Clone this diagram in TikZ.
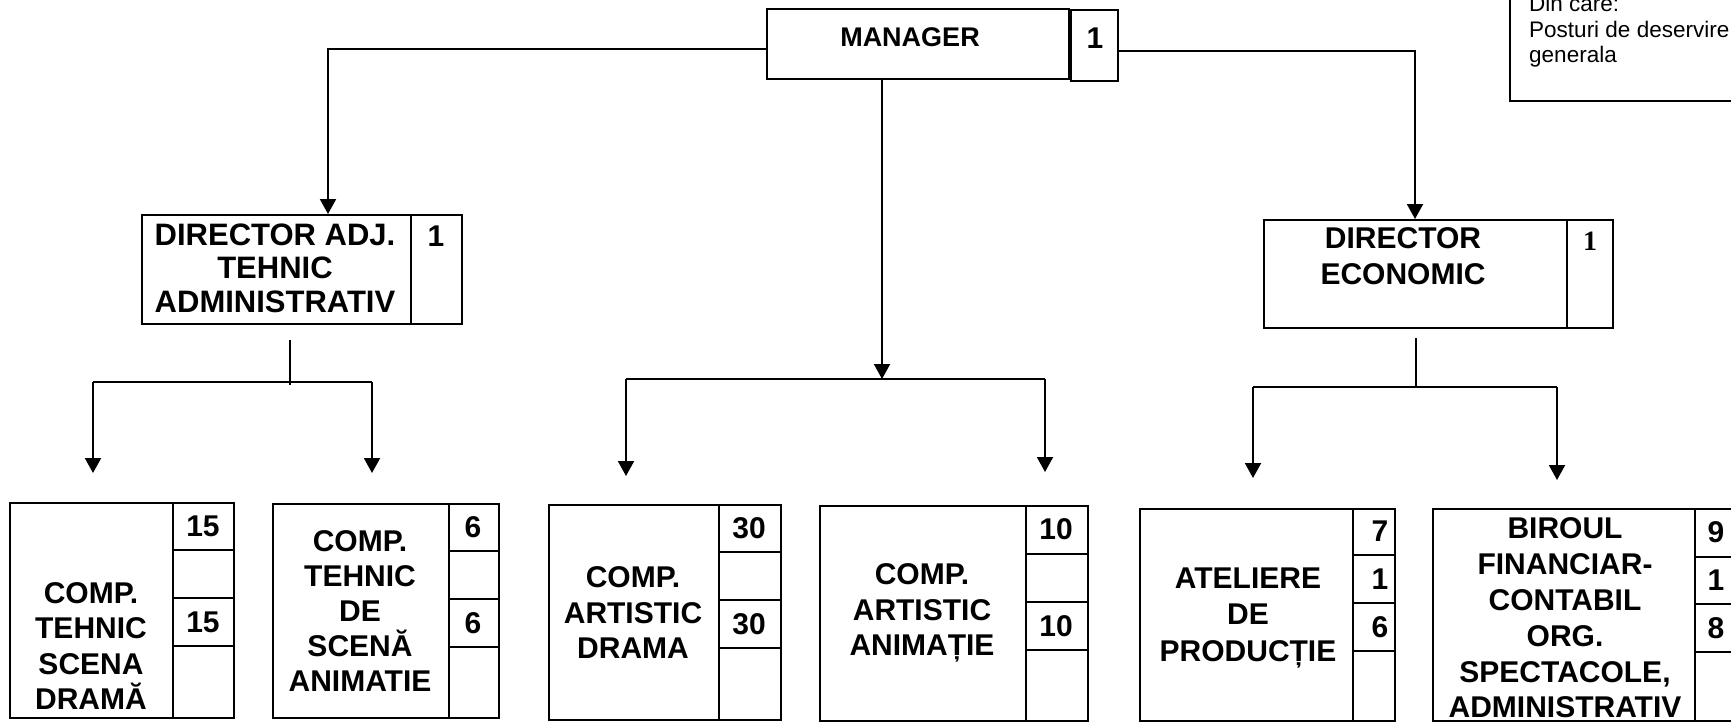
\documentclass[tikz,border=0pt]{standalone}
\usepackage{fontspec}
\setmainfont{Liberation Sans}
\newfontfamily\serifnum{Liberation Serif}
\usetikzlibrary{arrows.meta}
\begin{document}
\begin{tikzpicture}[x=1pt,y=-1pt,
  box/.style={draw,line width=2pt,rectangle,inner sep=0pt,anchor=north west},
  lbl/.style={align=center,inner sep=0pt,font=\bfseries\fontsize{30}{35.5}\selectfont},
  num/.style={inner sep=0pt,font=\bfseries\fontsize{30}{32}\selectfont},
  note/.style={inner sep=0pt,anchor=base west,font=\fontsize{22.5}{25}\selectfont},
  conn/.style={line width=2pt},
  arr/.style={line width=2pt,-{Triangle[length=15pt,width=16pt]}},
  cell/.style={line width=2pt}]
\useasboundingbox (0,0) rectangle (1731,723);
% ---------- top note box ----------
\node[box,minimum width=320pt,minimum height=150pt] (notebox) at (1509,-50) {};
\node[note] (n1) at (1529,11) {Din care:};
\node[note] (n2) at (1529,37) {Posturi de deservire};
\node[note] (n3) at (1529,62) {generala};
% ---------- manager ----------
\node[box,minimum width=302pt,minimum height=70pt] (mgr) at (766,8) {};
\node[box,minimum width=47pt,minimum height=71pt] (mgrn) at (1070,9) {};
\node[inner sep=0pt,font=\bfseries\fontsize{27}{30}\selectfont] (mgrt) at (910,37) {MANAGER};
\node[num] (mgrnt) at (1095,38) {1};
% ---------- director adj ----------
\node[box,minimum width=320pt,minimum height=109pt] (dadj) at (141,214) {};
\node[box,minimum width=51pt,minimum height=109pt] (dadjn) at (410,214) {};
\node[lbl,font=\bfseries\fontsize{31}{33.5}\selectfont] (dadjt) at (275,268) {DIRECTOR ADJ.\\TEHNIC\\ADMINISTRATIV};
\node[num] (dadjnt) at (436,236) {1};
% ---------- director economic ----------
\node[box,minimum width=349pt,minimum height=108pt] (decon) at (1263,219) {};
\node[box,minimum width=46pt,minimum height=108pt] (deconn) at (1566,219) {};
\node[lbl,font=\bfseries\fontsize{30}{36}\selectfont] (decont) at (1403,256) {DIRECTOR\\ECONOMIC};
\node[inner sep=0pt,font=\serifnum\bfseries\fontsize{28}{30}\selectfont] (deconnt) at (1590,241) {1};
% ---------- bottom boxes ----------
% B1
\node[box,minimum width=224pt,minimum height=215pt] (b1) at (9,502) {};
\node[box,minimum width=61pt,minimum height=215pt] (b1n) at (172,502) {};
\foreach \d in {550,598,646} \draw[cell] (172,\d) -- (233,\d);
\node[lbl] (b1t) at (91,646) {COMP.\\TEHNIC\\SCENA\\DRAMĂ};
\node[num] (b1a) at (203,526) {15};
\node[num] (b1c) at (203,622) {15};
% B2
\node[box,minimum width=226pt,minimum height=214pt] (b2) at (272,503) {};
\node[box,minimum width=50pt,minimum height=214pt] (b2n) at (448,503) {};
\foreach \d in {551,599,647} \draw[cell] (448,\d) -- (498,\d);
\node[lbl,font=\bfseries\fontsize{30}{35}\selectfont] (b2t) at (360,611) {COMP.\\TEHNIC\\DE\\SCENĂ\\ANIMATIE};
\node[num] (b2a) at (473,527) {6};
\node[num] (b2c) at (473,623) {6};
% B3
\node[box,minimum width=232pt,minimum height=215pt] (b3) at (548,504) {};
\node[box,minimum width=62pt,minimum height=215pt] (b3n) at (718,504) {};
\foreach \d in {552,600,648} \draw[cell] (718,\d) -- (780,\d);
\node[lbl] (b3t) at (633,613) {COMP.\\ARTISTIC\\DRAMA};
\node[num] (b3a) at (749,528) {30};
\node[num] (b3c) at (749,624) {30};
% B4
\node[box,minimum width=268pt,minimum height=215pt] (b4) at (819,505) {};
\node[box,minimum width=62pt,minimum height=215pt] (b4n) at (1025,505) {};
\foreach \d in {554,602,650} \draw[cell] (1025,\d) -- (1087,\d);
\node[lbl] (b4t) at (922,613) {COMP.\\ARTISTIC\\ANIMAȚIE};
\node[num] (b4a) at (1056,529) {10};
\node[num] (b4c) at (1056,626) {10};
% B5
\node[box,minimum width=255pt,minimum height=212pt] (b5) at (1139,508) {};
\node[box,minimum width=42pt,minimum height=212pt] (b5n) at (1352,508) {};
\foreach \d in {555,603,651} \draw[cell] (1352,\d) -- (1394,\d);
\node[lbl,font=\bfseries\fontsize{30}{36.5}\selectfont] (b5t) at (1248,618) {ATELIERE\\DE\\PRODUCȚIE};
\node[num] (b5a) at (1380,531) {7};
\node[num] (b5b) at (1380,579) {1};
\node[num] (b5c) at (1380,627) {6};
% B6
\node[box,minimum width=330pt,minimum height=212pt] (b6) at (1432,508) {};
\node[box,minimum width=68pt,minimum height=212pt] (b6n) at (1694,508) {};
\foreach \d in {557,604,652} \draw[cell] (1694,\d) -- (1762,\d);
\node[lbl,font=\bfseries\fontsize{30}{35.8}\selectfont] (b6t) at (1565,618) {BIROUL\\FINANCIAR-\\CONTABIL\\ORG.\\SPECTACOLE,\\ADMINISTRATIV};
\node[num] (b6a) at (1716,532) {9};
\node[num] (b6b) at (1716,580) {1};
\node[num] (b6c) at (1716,628) {8};
% ---------- connectors ----------
\coordinate (xl) at (328,0);
\coordinate (xr) at (1415,0);
\coordinate (xc) at (882,0);
\draw[arr] ([yshift=-5pt]mgr.west) -| (dadj.north -| xl);
\draw[arr] ([yshift=-5.5pt]mgrn.east) -| (decon.north -| xr);
% centre group
\coordinate (hc) at (0,379);
\coordinate (cl) at (626,379);
\coordinate (cr) at (1045,379);
\coordinate (t3) at (626,476);
\coordinate (t4) at (1045,472);
\draw[arr] (mgr.south -| xc) -- (hc -| xc);
\draw[conn] (cl) -- (cr);
\draw[arr] (cl) -- (t3);
\draw[arr] (cr) -- (t4);
% left group
\coordinate (ls1) at (290,340);
\coordinate (ls2) at (290,385);
\coordinate (ll) at (93,382);
\coordinate (lr) at (372,382);
\coordinate (t1) at (93,473);
\coordinate (t2) at (372,473);
\draw[conn] (ls1) -- (ls2);
\draw[conn] (ll) -- (lr);
\draw[arr] (ll) -- (t1);
\draw[arr] (lr) -- (t2);
% right group
\coordinate (rs1) at (1416,338);
\coordinate (rs2) at (1416,387);
\coordinate (rl) at (1253,387);
\coordinate (rr) at (1557,387);
\coordinate (t5) at (1253,478);
\coordinate (t6) at (1557,480);
\draw[conn] (rs1) -- (rs2);
\draw[conn] (rl) -- (rr);
\draw[arr] (rl) -- (t5);
\draw[arr] (rr) -- (t6);
\end{tikzpicture}
\end{document}
